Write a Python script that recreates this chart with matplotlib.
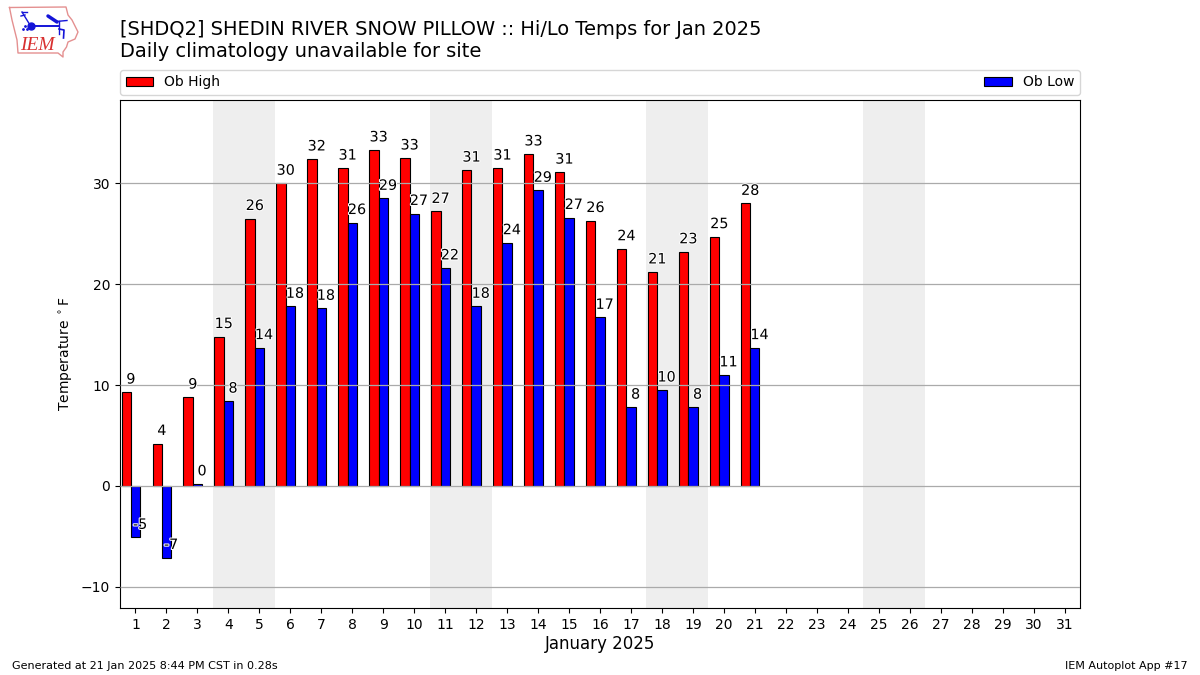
import matplotlib
matplotlib.use("Agg")
import matplotlib.pyplot as plt
import matplotlib.patheffects as pe
import numpy as np

days = list(range(1, 22))
all_days = list(range(1, 32))
ob_high = [9.3, 4.2, 8.8, 14.8, 26.5, 30.0, 32.4, 31.5, 33.3, 32.5, 27.2, 31.3, 31.5, 32.9, 31.1, 26.3, 23.5, 21.2, 23.2, 24.7, 28.0]
ob_low = [-5.1, -7.1, 0.2, 8.4, 13.7, 17.8, 17.6, 26.1, 28.5, 27.0, 21.6, 17.8, 24.1, 29.3, 26.6, 16.7, 7.8, 9.5, 7.8, 11.0, 13.7]
high_labels = [9, 4, 9, 15, 26, 30, 32, 31, 33, 33, 27, 31, 31, 33, 31, 26, 24, 21, 23, 25, 28]
low_labels = [-5, -7, 0, 8, 14, 18, 18, 26, 29, 27, 22, 18, 24, 29, 27, 17, 8, 10, 8, 11, 14]
weekend_starts = [4, 11, 18, 25]

fig = plt.figure(figsize=(12, 6.75), dpi=100)
ax = fig.add_axes([120/1200, 1-608/675, 960/1200, 508/675])

for d in weekend_starts:
    ax.axvspan(d-0.5, d+1.5, color="#eeeeee", lw=0, zorder=0)

x = np.array(days)
w = 0.3
ax.bar(x-w, ob_high, w, color="red", edgecolor="black", lw=0.8, label="Ob High", zorder=1)
ax.bar(x, ob_low, w, color="blue", edgecolor="black", lw=0.8, label="Ob Low", zorder=1)
ax.set_axisbelow(False)
ax.grid(axis="y", color="#aaaaaa", lw=0.9, zorder=2)

stroke = [pe.withStroke(linewidth=1.5, foreground="white")]
for xi, v, t in zip(x-w/2, ob_high, high_labels):
    ax.annotate(str(t), (xi, v), xytext=(0, 4), textcoords="offset points", ha="center", va="bottom",
                fontsize=10.3, path_effects=stroke, zorder=5)
for xi, v, t in zip(x+w/2, ob_low, low_labels):
    ax.annotate(str(t), (xi, v), xytext=(0, 4), textcoords="offset points", ha="center", va="bottom",
                fontsize=10.3, path_effects=stroke, zorder=5)

ax.set_xlim(0.5, 31.5)
ax.set_ylim(-12.1, 38.25)
ax.set_xticks(all_days)
ax.set_yticks([-10, 0, 10, 20, 30])
ax.tick_params(labelsize=10)
ax.set_xlabel("January 2025", fontsize=12, labelpad=2.6)
ax.set_ylabel(r"Temperature $^\circ$F", fontsize=10)

handles, labels = ax.get_legend_handles_labels()
fig.legend(handles, labels, ncol=2, mode="expand", loc="lower left", fontsize=10,
           bbox_to_anchor=(120/1200, 1-95/675, 960/1200, 25/675), borderaxespad=0)

fig.text(120/1200, 1-29.5/675, "[SHDQ2] SHEDIN RIVER SNOW PILLOW :: Hi/Lo Temps for Jan 2025", fontsize=13.98, va="center")
fig.text(120/1200, 1-51.5/675, "Daily climatology unavailable for site", fontsize=13.98, va="center")
fig.text(12/1200, 1-666/675, "Generated at 21 Jan 2025 8:44 PM CST in 0.28s", fontsize=8, va="center")
fig.text(1188/1200, 1-666/675, "IEM Autoplot App #17", fontsize=8, va="center", ha="right")

# logo (pixel-space overlay)
lg = fig.add_axes([0, 0, 1, 1], facecolor="none")
lg.set_xlim(0, 1200); lg.set_ylim(675, 0); lg.axis("off")
outline_x = [9.5, 66, 68, 72, 78, 75, 68, 66.5, 63, 63, 58, 18, 17, 12, 9.5]
outline_y = [7.5, 7, 15, 20, 32, 39, 42, 47, 52, 57, 53, 53, 40, 20, 7.5]
lg.plot(outline_x, outline_y, color="#e49090", lw=1)
blue = "#1414d8"
lg.plot([31, 59], [26, 26], color=blue, lw=1.4)
lg.plot([31], [26], "o", color=blue, ms=5)
lg.plot([22, 30], [12, 25], color=blue, lw=1)
lg.plot([22, 27], [12, 12], color=blue, lw=1)
lg.plot([21, 25], [16, 15], color=blue, lw=1)
lg.plot([48, 57], [16, 22], color=blue, lw=2.5, solid_capstyle="round")
lg.plot([56, 67], [21.5, 20.5], color=blue, lw=1)
lg.plot([59, 59], [21, 34], color=blue, lw=1)
lg.plot([59, 64, 63.5], [29, 30, 38], color=blue, lw=1.2)
lg.plot([23, 25, 27], [29, 26, 29], ".", color=blue, ms=2)
lg.text(37, 45, "IEM", color="#d83030", fontsize=14, family="Liberation Serif", style="italic", ha="center", va="center")

fig.savefig("out.png", dpi=100)
